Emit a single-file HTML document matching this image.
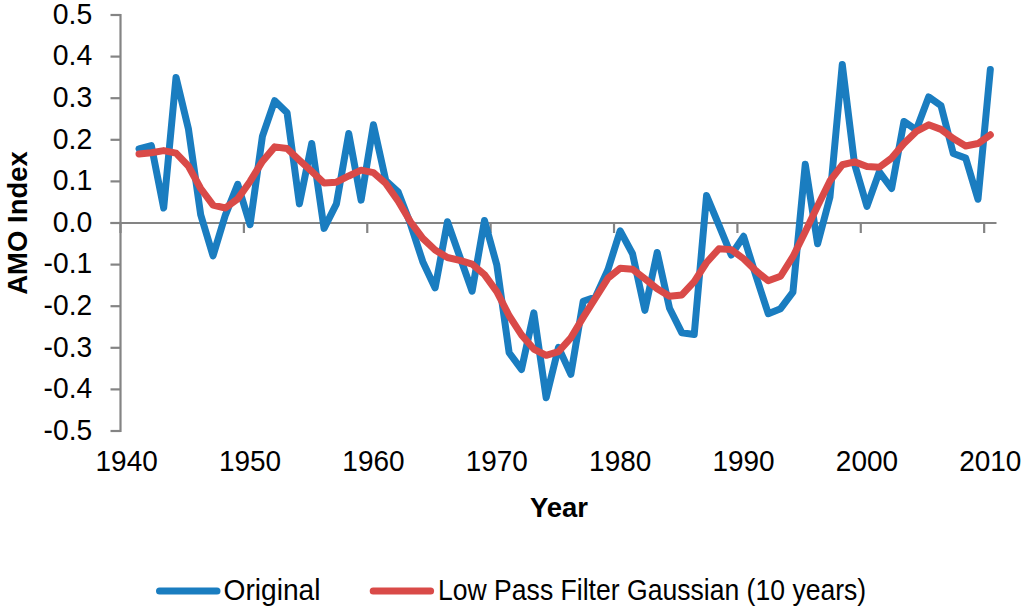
<!DOCTYPE html>
<html><head><meta charset="utf-8"><style>
html,body{margin:0;padding:0;background:#fff;width:1024px;height:610px;overflow:hidden}
svg{display:block}
.t{font-family:"Liberation Sans",sans-serif;font-size:29px;fill:#000}
.b{font-family:"Liberation Sans",sans-serif;font-size:27.5px;font-weight:bold;fill:#000}
</style></head><body>
<svg width="1024" height="610" viewBox="0 0 1024 610">
<line x1="120.5" y1="14.0" x2="120.5" y2="432.0" stroke="#848484" stroke-width="2.2"/>
<line x1="110.5" y1="15.00" x2="120.5" y2="15.00" stroke="#848484" stroke-width="2.2"/>
<text x="92.2" y="23.80" text-anchor="end" class="t" textLength="39.5" lengthAdjust="spacingAndGlyphs">0.5</text>
<line x1="110.5" y1="56.60" x2="120.5" y2="56.60" stroke="#848484" stroke-width="2.2"/>
<text x="92.2" y="65.40" text-anchor="end" class="t" textLength="39.5" lengthAdjust="spacingAndGlyphs">0.4</text>
<line x1="110.5" y1="98.20" x2="120.5" y2="98.20" stroke="#848484" stroke-width="2.2"/>
<text x="92.2" y="107.00" text-anchor="end" class="t" textLength="39.5" lengthAdjust="spacingAndGlyphs">0.3</text>
<line x1="110.5" y1="139.80" x2="120.5" y2="139.80" stroke="#848484" stroke-width="2.2"/>
<text x="92.2" y="148.60" text-anchor="end" class="t" textLength="39.5" lengthAdjust="spacingAndGlyphs">0.2</text>
<line x1="110.5" y1="181.40" x2="120.5" y2="181.40" stroke="#848484" stroke-width="2.2"/>
<text x="92.2" y="190.20" text-anchor="end" class="t" textLength="39.5" lengthAdjust="spacingAndGlyphs">0.1</text>
<line x1="110.5" y1="223.00" x2="120.5" y2="223.00" stroke="#848484" stroke-width="2.2"/>
<text x="92.2" y="231.80" text-anchor="end" class="t" textLength="39.5" lengthAdjust="spacingAndGlyphs">0.0</text>
<line x1="110.5" y1="264.60" x2="120.5" y2="264.60" stroke="#848484" stroke-width="2.2"/>
<text x="92.2" y="273.40" text-anchor="end" class="t" textLength="48.6" lengthAdjust="spacingAndGlyphs">-0.1</text>
<line x1="110.5" y1="306.20" x2="120.5" y2="306.20" stroke="#848484" stroke-width="2.2"/>
<text x="92.2" y="315.00" text-anchor="end" class="t" textLength="48.6" lengthAdjust="spacingAndGlyphs">-0.2</text>
<line x1="110.5" y1="347.80" x2="120.5" y2="347.80" stroke="#848484" stroke-width="2.2"/>
<text x="92.2" y="356.60" text-anchor="end" class="t" textLength="48.6" lengthAdjust="spacingAndGlyphs">-0.3</text>
<line x1="110.5" y1="389.40" x2="120.5" y2="389.40" stroke="#848484" stroke-width="2.2"/>
<text x="92.2" y="398.20" text-anchor="end" class="t" textLength="48.6" lengthAdjust="spacingAndGlyphs">-0.4</text>
<line x1="110.5" y1="431.00" x2="120.5" y2="431.00" stroke="#848484" stroke-width="2.2"/>
<text x="92.2" y="439.80" text-anchor="end" class="t" textLength="48.6" lengthAdjust="spacingAndGlyphs">-0.5</text>
<line x1="110.5" y1="223.0" x2="996.5" y2="223.0" stroke="#848484" stroke-width="2.2"/>
<line x1="120.50" y1="223.0" x2="120.50" y2="233.0" stroke="#848484" stroke-width="2.2"/>
<line x1="243.88" y1="223.0" x2="243.88" y2="233.0" stroke="#848484" stroke-width="2.2"/>
<line x1="367.26" y1="223.0" x2="367.26" y2="233.0" stroke="#848484" stroke-width="2.2"/>
<line x1="490.64" y1="223.0" x2="490.64" y2="233.0" stroke="#848484" stroke-width="2.2"/>
<line x1="614.02" y1="223.0" x2="614.02" y2="233.0" stroke="#848484" stroke-width="2.2"/>
<line x1="737.40" y1="223.0" x2="737.40" y2="233.0" stroke="#848484" stroke-width="2.2"/>
<line x1="860.78" y1="223.0" x2="860.78" y2="233.0" stroke="#848484" stroke-width="2.2"/>
<line x1="984.16" y1="223.0" x2="984.16" y2="233.0" stroke="#848484" stroke-width="2.2"/>
<text x="126.67" y="471.3" text-anchor="middle" class="t" textLength="62.2" lengthAdjust="spacingAndGlyphs">1940</text>
<text x="250.05" y="471.3" text-anchor="middle" class="t" textLength="62.2" lengthAdjust="spacingAndGlyphs">1950</text>
<text x="373.43" y="471.3" text-anchor="middle" class="t" textLength="62.2" lengthAdjust="spacingAndGlyphs">1960</text>
<text x="496.81" y="471.3" text-anchor="middle" class="t" textLength="62.2" lengthAdjust="spacingAndGlyphs">1970</text>
<text x="620.19" y="471.3" text-anchor="middle" class="t" textLength="62.2" lengthAdjust="spacingAndGlyphs">1980</text>
<text x="743.57" y="471.3" text-anchor="middle" class="t" textLength="62.2" lengthAdjust="spacingAndGlyphs">1990</text>
<text x="866.95" y="471.3" text-anchor="middle" class="t" textLength="62.2" lengthAdjust="spacingAndGlyphs">2000</text>
<text x="990.33" y="471.3" text-anchor="middle" class="t" textLength="62.2" lengthAdjust="spacingAndGlyphs">2010</text>
<polyline points="139.01,148.95 151.35,145.62 163.68,208.02 176.02,77.40 188.36,128.57 200.70,214.68 213.04,255.86 225.37,215.10 237.71,184.31 250.05,224.66 262.39,136.47 274.73,100.70 287.06,112.76 299.40,203.86 311.74,143.54 324.08,228.41 336.42,203.86 348.75,133.56 361.09,200.12 373.43,124.82 385.77,180.57 398.11,191.80 410.44,223.83 422.78,261.69 435.12,287.90 447.46,221.75 459.80,256.70 472.13,291.22 484.47,220.50 496.81,265.02 509.15,352.79 521.49,369.43 533.82,312.86 546.16,397.72 558.50,347.38 570.84,374.42 583.18,301.21 595.51,297.05 607.85,270.01 620.19,230.90 632.53,253.78 644.87,310.36 657.20,252.54 669.54,308.28 681.88,332.82 694.22,334.49 706.56,195.54 718.89,225.08 731.23,255.03 743.57,236.31 755.91,275.83 768.25,313.69 780.58,308.70 792.92,292.06 805.26,164.34 817.60,243.80 829.94,197.21 842.27,64.50 854.61,164.34 866.95,206.36 879.29,171.83 891.63,188.47 903.96,121.50 916.30,129.82 928.64,96.95 940.98,105.69 953.32,153.53 965.65,158.10 977.99,199.29 990.33,69.50" fill="none" stroke="#1a7dc0" stroke-width="7" stroke-linejoin="round" stroke-linecap="round"/>
<polyline points="139.01,153.94 151.35,152.70 163.68,150.62 176.02,153.11 188.36,166.01 200.70,188.47 213.04,205.11 225.37,208.02 237.71,198.87 250.05,181.40 262.39,161.43 274.73,146.87 287.06,148.54 299.40,160.18 311.74,171.42 324.08,183.06 336.42,182.23 348.75,175.99 361.09,170.17 373.43,172.66 385.77,183.48 398.11,200.95 410.44,221.75 422.78,238.39 435.12,250.04 447.46,257.53 459.80,260.44 472.13,264.18 484.47,274.58 496.81,291.64 509.15,315.77 521.49,334.90 533.82,349.05 546.16,355.29 558.50,351.54 570.84,337.82 583.18,317.43 595.51,297.88 607.85,278.33 620.19,268.34 632.53,269.18 644.87,278.74 657.20,288.73 669.54,296.22 681.88,294.97 694.22,281.66 706.56,262.52 718.89,248.79 731.23,249.62 743.57,258.78 755.91,270.84 768.25,280.82 780.58,276.25 792.92,256.70 805.26,231.74 817.60,205.94 829.94,180.98 842.27,164.76 854.61,161.85 866.95,166.42 879.29,167.26 891.63,158.10 903.96,143.54 916.30,131.48 928.64,124.82 940.98,129.40 953.32,138.55 965.65,146.04 977.99,143.54 990.33,134.81" fill="none" stroke="#d94a48" stroke-width="7" stroke-linejoin="round" stroke-linecap="round"/>
<text x="27.0" y="223" transform="rotate(-90 27.0 223)" text-anchor="middle" class="b">AMO Index</text>
<text x="559" y="517.1" text-anchor="middle" class="b">Year</text>
<line x1="159.5" y1="591" x2="217" y2="591" stroke="#1a7dc0" stroke-width="7" stroke-linecap="round"/>
<text x="223.5" y="599.8" class="t" textLength="97.0" lengthAdjust="spacingAndGlyphs">Original</text>
<line x1="373.2" y1="591" x2="430.6" y2="591" stroke="#d94a48" stroke-width="7" stroke-linecap="round"/>
<text x="438.0" y="599.9" class="t" textLength="428.2" lengthAdjust="spacingAndGlyphs">Low Pass Filter Gaussian (10 years)</text>
</svg>
</body></html>
